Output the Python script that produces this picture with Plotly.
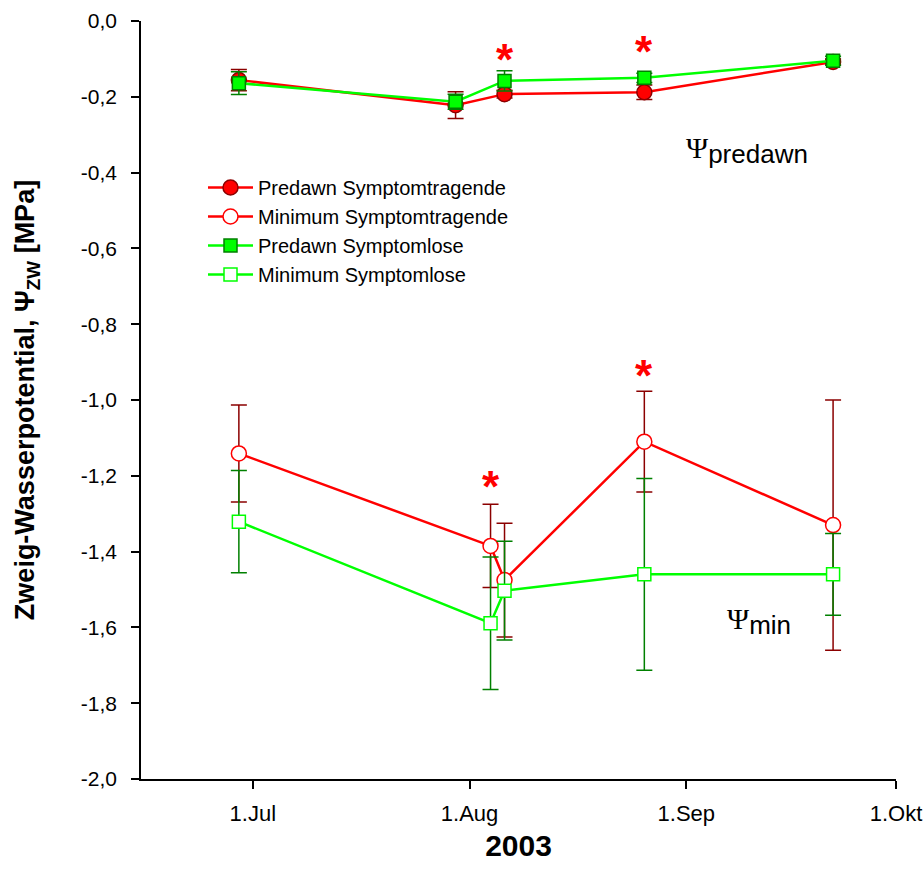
import plotly.graph_objects as go

# ---- data ----
dates_predawn = ["2003-06-29", "2003-07-30", "2003-08-06", "2003-08-26", "2003-09-22"]
dates_min = ["2003-06-29", "2003-08-04", "2003-08-06", "2003-08-26", "2003-09-22"]

predawn_sym = [-0.156, -0.222, -0.193, -0.188, -0.108]
predawn_sym_err = [0.028, 0.035, 0.010, 0.019, 0.008]
min_sym = [-1.141, -1.385, -1.475, -1.110, -1.330]
min_sym_err = [0.128, 0.110, 0.150, 0.133, 0.330]

predawn_less = [-0.164, -0.213, -0.158, -0.150, -0.105]
predawn_less_err = [0.030, 0.020, 0.027, 0.012, 0.012]
min_less = [-1.321, -1.589, -1.503, -1.460, -1.460]
min_less_err = [0.135, 0.175, 0.130, 0.253, 0.108]

names = ["Predawn Symptomtragende", "Minimum Symptomtragende",
         "Predawn Symptomlose", "Minimum Symptomlose"]

star_x = ["2003-08-06", "2003-08-26", "2003-08-04", "2003-08-26"]
star_y = [-0.082, -0.063, -1.211, -0.916]

x_tickvals = ["2003-07-01", "2003-08-01", "2003-09-01", "2003-10-01"]
x_ticktext = ["1.Jul", "1.Aug", "1.Sep", "1.Okt"]
y_tickvals = [0.0, -0.2, -0.4, -0.6, -0.8, -1.0, -1.2, -1.4, -1.6, -1.8, -2.0]
y_ticktext = ["0,0", "-0,2", "-0,4", "-0,6", "-0,8", "-1,0", "-1,2", "-1,4", "-1,6", "-1,8", "-2,0"]

RED = "#FF0000"
DRED = "#8B0000"
GREEN = "#00FF00"
DGREEN = "#008000"

fig = go.Figure()

def add(x, y, err, name, line_color, err_color, symbol, fill, outline, size):
    fig.add_trace(go.Scatter(
        x=x, y=y, name=name, mode="lines+markers",
        line=dict(color=line_color, width=2.5),
        marker=dict(symbol=symbol, size=size, color=fill,
                    line=dict(color=outline, width=1.5)),
        error_y=dict(type="data", array=err, visible=True,
                     color=err_color, thickness=1.5, width=8),
    ))

add(dates_predawn, predawn_sym, predawn_sym_err, names[0], RED, DRED, "circle", RED, DRED, 15)
add(dates_min, min_sym, min_sym_err, names[1], RED, DRED, "circle", "white", RED, 15)
add(dates_predawn, predawn_less, predawn_less_err, names[2], GREEN, DGREEN, "square", GREEN, DGREEN, 13)
add(dates_min, min_less, min_less_err, names[3], GREEN, DGREEN, "square", "white", GREEN, 13)

for sx, sy in zip(star_x, star_y):
    fig.add_annotation(x=sx, y=sy, text="<b>*</b>", showarrow=False,
                       font=dict(size=44, color=RED, family="Liberation Sans, Arial"),
                       xanchor="center", yanchor="middle", yshift=-7)

fig.add_annotation(
    xref="paper", yref="paper", x=(684 - 141) / 755, y=(779 - 150) / 758, xanchor="left", yanchor="middle",
    text="<span style='font-family:Liberation Serif;font-size:30px'>Ψ</span><sub><span style='font-size:26px'>predawn</span></sub>",
    showarrow=False, font=dict(size=26, color="black", family="Liberation Sans, Arial"))
fig.add_annotation(
    xref="paper", yref="paper", x=(725 - 141) / 755, y=(779 - 621) / 758, xanchor="left", yanchor="middle",
    text="<span style='font-family:Liberation Serif;font-size:30px'>Ψ</span><sub><span style='font-size:26px'>min</span></sub>",
    showarrow=False, font=dict(size=26, color="black", family="Liberation Sans, Arial"))

fig.update_layout(
    width=923, height=889,
    margin=dict(l=141, r=27, t=21, b=110, autoexpand=False),
    paper_bgcolor="white", plot_bgcolor="white",
    font=dict(family="Liberation Sans, Arial", color="black"),
    showlegend=True,
    legend=dict(x=(203 - 141) / 755, y=(779 - 168) / 758, xanchor="left", yanchor="top",
                bgcolor="rgba(0,0,0,0)", borderwidth=0, itemwidth=45,
                font=dict(size=20, family="Liberation Sans, Arial")),
    xaxis=dict(
        type="date", range=["2003-06-15", "2003-10-01"], automargin=False,
        tickvals=x_tickvals, ticktext=x_ticktext, ticklabeloverflow="allow",
        showgrid=False, zeroline=False, showline=True, linecolor="black", linewidth=1.5,
        ticks="outside", ticklen=8, tickwidth=1.5, tickcolor="black",
        tickfont=dict(size=22),
        ticklabelstandoff=6,
        title=dict(text="<b>2003</b>", font=dict(size=30), standoff=10),
    ),
    yaxis=dict(
        range=[-2.0, 0.0], tickvals=y_tickvals, ticktext=y_ticktext, automargin=False,
        showgrid=False, zeroline=False, showline=True, linecolor="black", linewidth=1.5,
        ticks="outside", ticklen=8, tickwidth=1.5, tickcolor="black",
        tickfont=dict(size=21), ticklabelstandoff=10,
        title=dict(text="<b>Zweig-Wasserpotential, Ψ<sub>ZW</sub> [MPa]</b>",
                   font=dict(size=27), standoff=38),
    ),
)

fig.write_html("out.html")
